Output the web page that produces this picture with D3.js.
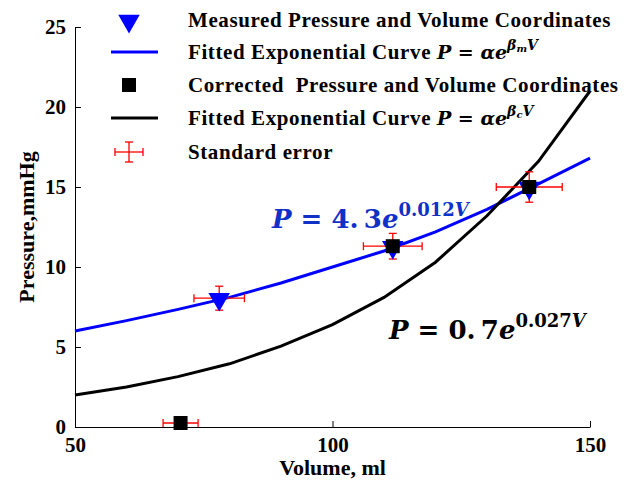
<!DOCTYPE html>
<html>
<head>
<meta charset="utf-8">
<title>Pressure vs Volume</title>
<script src="https://d3js.org/d3.v7.min.js"></script>
<style>
  body { margin: 0; background: #fff; }
  text { font-family: "Liberation Serif", "Times New Roman", serif; font-weight: bold; white-space: pre; }
  .math { font-family: "DejaVu Serif", serif; font-weight: bold; }
</style>
</head>
<body>
<div id="chart"></div>
<script>
// data
const curveV = [50, 60, 70, 80, 90, 100, 110, 120, 130, 140, 150];
const measuredFit = [6.0, 6.65, 7.35, 8.1, 9.0, 10.0, 11.0, 12.2, 13.6, 15.2, 16.8];
const correctedFit = [2.0, 2.5, 3.15, 3.95, 5.05, 6.4, 8.1, 10.3, 13.2, 16.6, 21.0];

const measuredV = [78, 111.7, 138.2];
const measuredP = [8.05, 11.3, 15.0];
const correctedV = [70.5, 111.7, 138.2];
const correctedP = [0.25, 11.3, 15.0];

const errV = [78, 70.5, 111.7, 138.2];
const errP = [8.05, 0.25, 11.3, 15.0];
const errX = [4.9, 3.4, 5.7, 6.4];
const errY = [0.75, 0, 0.8, 0.95];

const xTicks = [50, 100, 150];
const yTicks = [0, 5, 10, 15, 20, 25];

const legendLabels = [
  "Measured Pressure and Volume Coordinates",
  "Fitted Exponential Curve ",
  "Corrected  Pressure and Volume Coordinates",
  "Fitted Exponential Curve ",
  "Standard error"
];

const W = 631, H = 480;
const margin = { top: 27, right: 41, bottom: 53, left: 75 };
const width = W - margin.left - margin.right;
const height = H - margin.top - margin.bottom;

const svg = d3.select("#chart").append("svg")
  .attr("width", W).attr("height", H);
const g = svg.append("g").attr("transform", `translate(${margin.left},${margin.top})`);

const x = d3.scaleLinear().domain([50, 150]).range([0, width]);
const y = d3.scaleLinear().domain([0, 25]).range([height, 0]);

// axes (ticks pointing inward)
const xAxis = g.append("g").attr("transform", `translate(0,${height})`)
  .call(d3.axisBottom(x).tickValues(xTicks).tickSizeInner(-6).tickSizeOuter(0).tickPadding(10));
const yAxis = g.append("g")
  .call(d3.axisLeft(y).tickValues(yTicks).tickSizeInner(-6).tickSizeOuter(0).tickPadding(9));
[xAxis, yAxis].forEach(a => {
  a.selectAll("text").attr("font-size", 21).attr("fill", "#000")
    .style("font-family", "'Liberation Serif', serif").style("font-weight", "bold");
  a.selectAll("line, path").attr("stroke", "#000");
});
xAxis.selectAll("text").attr("dy", "0.7em");

g.append("text").attr("x", width / 2).attr("y", height + 48)
  .attr("text-anchor", "middle").attr("font-size", 22).text("Volume, ml");
g.append("text").attr("transform", `translate(-41,${height / 2}) rotate(-90)`)
  .attr("text-anchor", "middle").attr("font-size", 22).text("Pressure,mmHg");

// fitted curves
const line = d3.line().x(d => x(d[0])).y(d => y(d[1]));
g.append("path").datum(curveV.map((v, i) => [v, measuredFit[i]]))
  .attr("d", line).attr("fill", "none").attr("stroke", "#0000ff").attr("stroke-width", 3);
g.append("path").datum(curveV.map((v, i) => [v, correctedFit[i]]))
  .attr("d", line).attr("fill", "none").attr("stroke", "#000").attr("stroke-width", 3);

// error bars
const cap = 4;
errV.forEach((v, i) => {
  const cx = x(v), cy = y(errP[i]);
  const eg = g.append("g").attr("stroke", "#ff0000").attr("stroke-width", 1.3);
  const x0 = x(v - errX[i]), x1 = x(v + errX[i]);
  eg.append("line").attr("x1", x0).attr("x2", x1).attr("y1", cy).attr("y2", cy);
  eg.append("line").attr("x1", x0).attr("x2", x0).attr("y1", cy - cap).attr("y2", cy + cap);
  eg.append("line").attr("x1", x1).attr("x2", x1).attr("y1", cy - cap).attr("y2", cy + cap);
  if (errY[i] > 0) {
    const y0 = y(errP[i] - errY[i]), y1 = y(errP[i] + errY[i]);
    eg.append("line").attr("x1", cx).attr("x2", cx).attr("y1", y0).attr("y2", y1);
    eg.append("line").attr("x1", cx - cap).attr("x2", cx + cap).attr("y1", y0).attr("y2", y0);
    eg.append("line").attr("x1", cx - cap).attr("x2", cx + cap).attr("y1", y1).attr("y2", y1);
  }
});

// markers
const tri = d3.symbol().type(d3.symbolTriangle).size(200);
measuredV.forEach((v, i) => {
  g.append("path").attr("d", tri)
    .attr("transform", `translate(${x(v)},${y(measuredP[i]) + 1}) rotate(180)`)
    .attr("fill", "#0000ff");
});
correctedV.forEach((v, i) => {
  g.append("rect").attr("x", x(v) - 7).attr("y", y(correctedP[i]) - 7)
    .attr("width", 14).attr("height", 14).attr("fill", "#000");
});

// equation annotations
function equation(sel, px, py, coef, expo, color) {
  const t = sel.append("text").attr("class", "math").attr("x", px).attr("y", py)
    .attr("fill", color).attr("font-size", 26);
  t.append("tspan").attr("font-style", "italic").text("P");
  t.append("tspan").text(" = " + coef.replace(".", ".\u2009"));
  t.append("tspan").attr("font-style", "italic").text("e");
  t.append("tspan").attr("font-size", 18).attr("dy", -12).text(expo);
  t.append("tspan").attr("font-size", 18).attr("font-style", "italic").text("V");
}
equation(svg, 272, 228, "4.3", "0.012", "#1030c8");
equation(svg, 389, 339, "0.7", "0.027", "#000");

// legend
const legY = [20, 52, 85, 118, 152];
const lg = svg.append("g");
lg.append("path").attr("d", tri).attr("transform", `translate(129,${legY[0] + 1}) rotate(180)`).attr("fill", "#0000ff");
lg.append("line").attr("x1", 111).attr("x2", 158).attr("y1", legY[1]).attr("y2", legY[1])
  .attr("stroke", "#0000ff").attr("stroke-width", 3);
lg.append("rect").attr("x", 122).attr("y", legY[2] - 7).attr("width", 14).attr("height", 14).attr("fill", "#000");
lg.append("line").attr("x1", 111).attr("x2", 158).attr("y1", legY[3]).attr("y2", legY[3])
  .attr("stroke", "#000").attr("stroke-width", 3);
const lc = lg.append("g").attr("stroke", "#ff0000").attr("stroke-width", 1.3);
lc.append("line").attr("x1", 115).attr("x2", 143).attr("y1", legY[4]).attr("y2", legY[4]);
lc.append("line").attr("x1", 129).attr("x2", 129).attr("y1", legY[4] - 10).attr("y2", legY[4] + 10);
lc.append("line").attr("x1", 115).attr("x2", 115).attr("y1", legY[4] - 4).attr("y2", legY[4] + 4);
lc.append("line").attr("x1", 143).attr("x2", 143).attr("y1", legY[4] - 4).attr("y2", legY[4] + 4);
lc.append("line").attr("x1", 125).attr("x2", 133).attr("y1", legY[4] - 10).attr("y2", legY[4] - 10);
lc.append("line").attr("x1", 125).attr("x2", 133).attr("y1", legY[4] + 10).attr("y2", legY[4] + 10);

legendLabels.forEach((lab, i) => {
  const t = lg.append("text").attr("x", 188).attr("y", legY[i] + 7)
    .attr("font-size", 21).attr("letter-spacing", 0.6).text(lab);
  if (i === 1 || i === 3) {
    const m = t.append("tspan").attr("class", "math").attr("font-size", 19).attr("letter-spacing", 0);
    m.append("tspan").attr("font-style", "italic").text("P");
    m.append("tspan").text(" = ");
    m.append("tspan").attr("font-style", "italic").text("αe");
    m.append("tspan").attr("font-size", 14).attr("dy", -9).attr("font-style", "italic").text("β");
    m.append("tspan").attr("font-size", 10).attr("dy", 2).attr("font-style", "italic").text(i === 1 ? "m" : "c");
    m.append("tspan").attr("font-size", 14).attr("dy", -2).attr("font-style", "italic").text("V");
  }
});
</script>
</body>
</html>
